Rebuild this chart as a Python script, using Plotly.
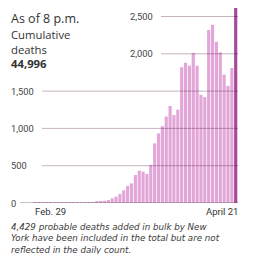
import pandas as pd
import plotly.graph_objects as go

# ---- data ----
dates = pd.date_range("2020-02-29", "2020-04-21", freq="D")
daily_deaths = [
    1, 1, 4, 1, 4, 1, 2, 2, 3, 4,          # Feb 29 - Mar 9
    5, 8, 7, 10, 10, 8, 20, 25, 30, 40,    # Mar 10 - Mar 19
    62, 85, 120, 170, 230, 264, 375, 433, 420, 390,   # Mar 20 - Mar 29
    510, 800, 934, 1030, 1160, 1300, 1180, 1250, 1820, 1880,  # Mar 30 - Apr 8
    1840, 2010, 1840, 1450, 1420, 2320, 2390, 2160, 2020, 1720,  # Apr 9 - Apr 18
    1570, 1810, 2800,                      # Apr 19 - Apr 21
]
y_ticks = [0, 500, 1000, 1500, 2000, 2500]
y_tick_labels = ["0", "500", "1,000", "1,500", "2,000", "2,500"]
x_labels = ["Feb. 29", "April 21"]
total_deaths = "44,996"
footnote_lines = [
    "4,429 probable deaths added in bulk by New",
    "York have been included in the total but are not",
    "reflected in the daily count.",
]

# ---- styling ----
# The page body has an 8px default margin, so the figure is drawn 8px in
# from the top-left of the 254x254 window; layout works in screen pixels.
OFF = 8
W = H = 254 - OFF
BASE_SCREEN = 203          # screen y of the zero line
PX_PER_UNIT = 0.0746
PLOT_H = BASE_SCREEN - OFF
Y_TOP = PLOT_H / PX_PER_UNIT
PINK = "#e3a6d9"
DARK = "#a8489b"
FONT = "Roboto"
HFONT = "Open Sans"
TXT = "#333333"

colors = [PINK] * (len(daily_deaths) - 1) + [DARK]

fig = go.Figure(go.Bar(
    x=dates, y=daily_deaths,
    marker=dict(color=colors, line=dict(width=0)),
    hoverinfo="skip",
))

PITCH = 3.86               # px per day
first_center = 35 - OFF
last_center = 235.7 - OFF
x_start = dates[0] - pd.Timedelta(days=first_center / PITCH)
x_end = dates[-1] + pd.Timedelta(days=(W - last_center) / PITCH)

fig.update_layout(
    width=W, height=H,
    margin=dict(l=0, r=0, t=0, b=H - PLOT_H, pad=0),
    paper_bgcolor="white", plot_bgcolor="white",
    showlegend=False, bargap=0.18,
    xaxis=dict(range=[x_start, x_end], showgrid=False, zeroline=False,
               showticklabels=False, showline=False, ticks=""),
    yaxis=dict(range=[0, Y_TOP], showgrid=False, zeroline=False,
               showticklabels=False, showline=False, ticks=""),
    font=dict(family=FONT, color=TXT),
)


def px(sx):
    return (sx - OFF) / W


def py(sy):
    return 1 - (sy - OFF) / PLOT_H


# gridlines (drawn above bars, semi-transparent) and inline labels
label_x = {0: 9, 500: 9, 1000: 9, 1500: 9, 2000: 128, 2500: 128}
line_x0 = {0: 20, 500: 42, 1000: 42, 1500: 42, 2000: 161, 2500: 161}
for v, lab in zip(y_ticks, y_tick_labels):
    fig.add_shape(type="line", xref="paper", yref="y",
                  x0=px(line_x0[v]), x1=px(238), y0=v, y1=v,
                  line=dict(color="rgba(60,0,50,0.30)" if v else "rgba(60,60,60,0.6)",
                            width=1),
                  layer="above")
    fig.add_annotation(xref="paper", yref="y", x=px(label_x[v]), y=v,
                       text=lab, showarrow=False, xanchor="left", yanchor="middle",
                       font=dict(size=9.3, color="#444444", family=FONT))


def ann(text, sx, sy, size, anchor="left", family=FONT, color=TXT, yanchor="middle", **kw):
    fig.add_annotation(xref="paper", yref="paper", x=px(sx), y=py(sy),
                       text=text, showarrow=False, xanchor=anchor, yanchor=yanchor,
                       font=dict(size=size, color=color, family=family), **kw)


# x labels
ann(x_labels[0], 33, 211, 9.5)
ann(x_labels[1], 240, 211, 9.5, anchor="right")

# header text
ann("As of 8 p.m.", 9, 8, 12.5, family=HFONT, yanchor="top")
ann("Cumulative<br>deaths<br><b>" + total_deaths + "</b>", 9, 48.5, 11.3,
    family=HFONT, align="left")

# footnote
for i, line in enumerate(footnote_lines):
    ann("<i>" + line + "</i>", 9, 226.5 + 11.5 * i, 8.7, family="DejaVu Sans", color="#3a3a3a")

fig.write_html("out.html")
